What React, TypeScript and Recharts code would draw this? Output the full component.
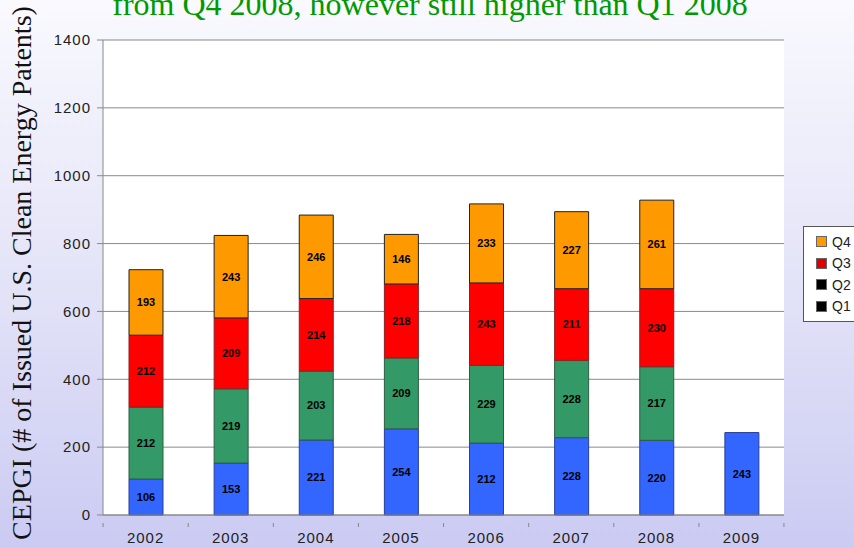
import { BarChart, Bar, XAxis, YAxis, CartesianGrid, LabelList } from "recharts";

const years = ["2002", "2003", "2004", "2005", "2006", "2007", "2008", "2009"];
const q1 = [106, 153, 221, 254, 212, 228, 220, 243];
const q2 = [212, 219, 203, 209, 229, 228, 217, null];
const q3 = [212, 209, 214, 218, 243, 211, 230, null];
const q4 = [193, 243, 246, 146, 233, 227, 261, null];
const yTicks = [0, 200, 400, 600, 800, 1000, 1200, 1400];

const titleText = "from Q4 2008, however still higher than Q1 2008";
const yLabel = "CEPGI (# of Issued U.S. Clean Energy Patents)";

const legendItems = [
  { name: "Q4", color: "#FF9900" },
  { name: "Q3", color: "#E00000" },
  { name: "Q2", color: "#000000" },
  { name: "Q1", color: "#000000" },
];

const data = years.map((year, i) => ({ year, q1: q1[i], q2: q2[i], q3: q3[i], q4: q4[i] }));

const sans = "'Liberation Sans', Arial, sans-serif";
const serif = "'Liberation Serif', 'Times New Roman', serif";

function YearTick(props: any) {
  const { x, y, payload, index } = props;
  const half = 42.5;
  return (
    <g>
      <line x1={x - half} y1={y} x2={x - half} y2={y + 4} stroke="#888" />
      {index === years.length - 1 && <line x1={x + half} y1={y} x2={x + half} y2={y + 4} stroke="#888" />}
      <text x={x} y={y + 20} textAnchor="middle" fontSize={15} letterSpacing={1} fontFamily={sans} fill="#222">
        {payload.value}
      </text>
    </g>
  );
}

function LegendBox() {
  return (
    <div style={{ position: "absolute", left: 803, top: 226, border: "1px solid #555", background: "#fff", width: 70, height: 86, padding: "4px 0 4px 12px", fontFamily: sans, fontSize: 14, color: "#222" }}>
      {legendItems.map((it) => (
        <div key={it.name} style={{ display: "flex", alignItems: "center", height: 21.5 }}>
          <span style={{ width: 9, height: 9, background: it.color, border: "1px solid #666", marginRight: 5 }} />
          {it.name}
        </div>
      ))}
    </div>
  );
}

export default function App() {
  return (
    <div style={{ position: "fixed", left: 0, top: 0, width: 854, height: 548, overflow: "hidden", background: "linear-gradient(to bottom, #f9f9fe 0%, #e4e4f8 50%, #cbcbf3 100%)" }}>
      <BarChart width={854} height={548} data={data} margin={{ top: 40, right: 70, bottom: 0, left: 43 }} barSize={34}>
        <CartesianGrid vertical={false} stroke="#8a8a8a" fill="#ffffff" />
        <XAxis dataKey="year" tick={<YearTick />} tickLine={false} axisLine={{ stroke: "#888" }} height={33} interval={0} />
        <YAxis domain={[0, 1400]} ticks={yTicks} width={60} tickSize={6} tickMargin={6} axisLine={{ stroke: "#888" }} tickLine={{ stroke: "#888" }} tick={{ fontSize: 15, letterSpacing: 1, fontFamily: sans, fill: "#222" }} />
        <Bar dataKey="q1" stackId="a" fill="#3366FF" stroke="#2a3f99" strokeWidth={1} isAnimationActive={false}>
          <LabelList dataKey="q1" position="center" fontSize={11} fontWeight="bold" fontFamily={sans} fill="#000" />
        </Bar>
        <Bar dataKey="q2" stackId="a" fill="#339966" stroke="#2c5e44" strokeWidth={1} isAnimationActive={false}>
          <LabelList dataKey="q2" position="center" fontSize={11} fontWeight="bold" fontFamily={sans} fill="#000" />
        </Bar>
        <Bar dataKey="q3" stackId="a" fill="#FF0000" stroke="#8a2020" strokeWidth={1} isAnimationActive={false}>
          <LabelList dataKey="q3" position="center" fontSize={11} fontWeight="bold" fontFamily={sans} fill="#000" />
        </Bar>
        <Bar dataKey="q4" stackId="a" fill="#FF9900" stroke="#222" strokeWidth={1} isAnimationActive={false}>
          <LabelList dataKey="q4" position="center" fontSize={11} fontWeight="bold" fontFamily={sans} fill="#000" />
        </Bar>
      </BarChart>
      <LegendBox />
      <svg width={854} height={548} style={{ position: "absolute", left: 0, top: 0, pointerEvents: "none" }}>
        <text x={430} y={15} textAnchor="middle" fontFamily={serif} fontSize={32} fill="#009900">
          {titleText}
        </text>
        <text transform="translate(31, 273) rotate(-90)" textAnchor="middle" fontFamily={serif} fontSize={28} fill="#111">
          {yLabel}
        </text>
      </svg>
    </div>
  );
}
